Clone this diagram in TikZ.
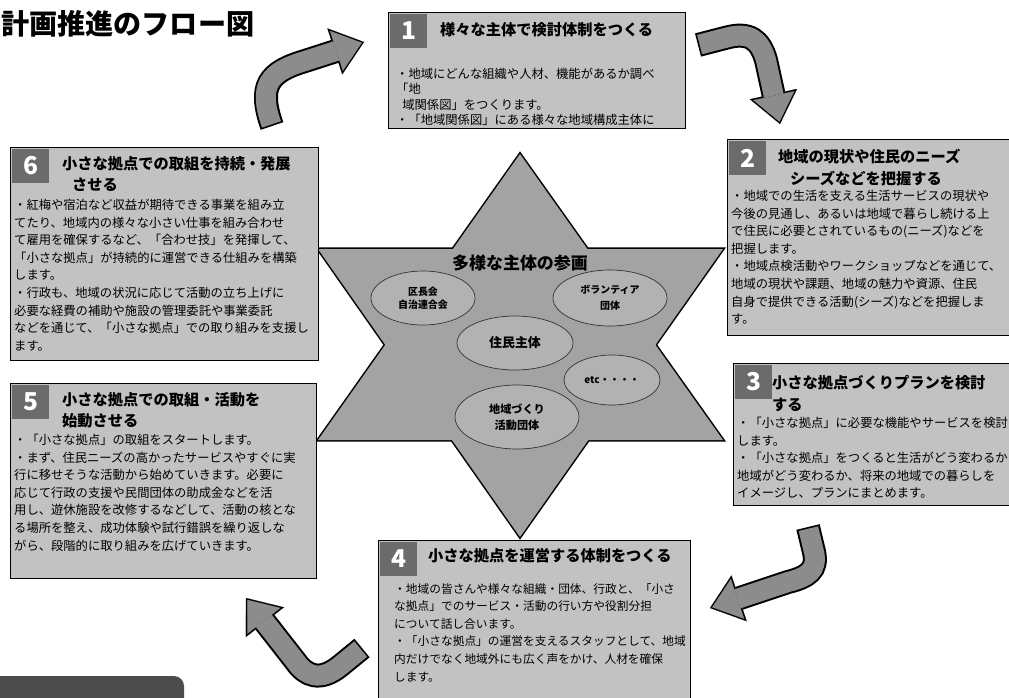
\documentclass[tikz,border=0pt]{standalone}
\usepackage{fontspec}
\setmainfont{Noto Sans CJK JP}
\usetikzlibrary{shapes.geometric,arrows.meta}

\begin{document}
\begin{tikzpicture}[x=0.03cm, y=-0.03cm,
  panel/.style={draw=black, line width=0.9pt, fill=black!24, anchor=north west, inner sep=0},
  numbox/.style={fill=black!58, anchor=north west, minimum width=1.1cm, minimum height=1cm,
    inner sep=0, text=white, font=\fontsize{21}{21}\selectfont\bfseries},
  head/.style={anchor=north west, align=left, inner sep=0, font=\fontsize{13}{18.5}\selectfont\bfseries},
  body/.style={anchor=north west, align=left, inner sep=0, font=\fontsize{10.5}{15}\selectfont},
  ellip/.style={ellipse, draw=black!80, line width=0.6pt, fill=black!30, inner sep=0, align=center},
  arrowrim/.style={line width=0.72cm, draw=black,
    -{Triangle[length=0.92cm, width=1.45cm, line width=0.1pt]}},
  arrowcore/.style={line width=0.6cm, draw=black!45, shorten >=0.07cm, shorten <=0.05cm,
    -{Triangle[length=0.8cm, width=1.26cm, line width=0.1pt]}}
]

\useasboundingbox (0,0) rectangle (1009,697);
\fill[white] (0,0) rectangle (1009,697);

\node[anchor=west, inner sep=0, font=\fontsize{24}{24}\selectfont\bfseries] (title) at (1,24) {計画推進のフロー図};

\fill[black!70] (-5,676) [rounded corners=0.3cm] -- (184,676) [sharp corners] -- (184,710) -- (-5,710) -- cycle;

\coordinate (sT)  at (520,154);
\coordinate (sBL) at (318,440);
\coordinate (sBR) at (723,440);
\coordinate (sB)  at (520,537);
\coordinate (sTL) at (318,249);
\coordinate (sTR) at (723,249);

\draw[line width=2.6pt] (sT) -- (sBL) -- (sBR) -- cycle;
\draw[line width=2.6pt] (sB) -- (sTL) -- (sTR) -- cycle;
\fill[black!36] (sT) -- (sBL) -- (sBR) -- cycle;
\fill[black!36] (sB) -- (sTL) -- (sTR) -- cycle;

\node[font=\fontsize{14.5}{15}\selectfont\bfseries] (sankaku) at (520,263) {多様な主体の参画};

\node[ellip, minimum width=3.12cm, minimum height=1.62cm, font=\fontsize{8.5}{11}\selectfont\bfseries] (kucho) at (423,298) {区長会\\自治連合会};
\node[ellip, minimum width=3.42cm, minimum height=1.68cm, font=\fontsize{8.5}{14}\selectfont\bfseries] (volunteer) at (610,298) {ボランティア\\団体};
\node[ellip, minimum width=3.48cm, minimum height=1.62cm, font=\fontsize{11}{12}\selectfont\bfseries] (jumin) at (515,343) {住民主体};
\node[ellip, minimum width=2.88cm, minimum height=1.5cm, font=\fontsize{8.5}{10}\selectfont\bfseries] (etc) at (612,380) {etc・・・・};
\node[ellip, minimum width=3.72cm, minimum height=1.92cm, font=\fontsize{9.5}{14}\selectfont\bfseries] (chiiki) at (517,417) {地域づくり\\活動団体};

\node[panel, minimum width=8.91cm, minimum height=3.48cm] (p1) at (388,12) {};
\node[numbox] (n1) at (390,14) {1};
\node[head] (h1) at (440,22) {様々な主体で検討体制をつくる};
\node[body, font=\fontsize{10.5}{13}\selectfont] (t1) at (396,68) {・地域にどんな組織や人材、機能があるか調べ\\「地\\\hspace*{0.5em}域関係図」をつくります。\\・「地域関係図」にある様々な地域構成主体に};

\node[panel, minimum width=8.55cm, minimum height=5.88cm] (p2) at (727,139) {};
\node[numbox] (n2) at (729,141) {2};
\node[head] (h2) at (778,149) {地域の現状や住民のニーズ\\\hspace*{0.36cm}シーズなどを把握する};
\node[body] (t2) at (731,190) {・地域での生活を支える生活サービスの現状や\\今後の見通し、あるいは地域で暮らし続ける上\\で住民に必要とされているもの(ニーズ)などを\\把握します。\\・地域点検活動やワークショップなどを通じて、\\地域の現状や課題、地域の魅力や資源、住民\\自身で提供できる活動(シーズ)などを把握しま\\す。};

\node[panel, minimum width=8.37cm, minimum height=4.26cm] (p3) at (733,363) {};
\node[numbox] (n3) at (735,365) {3};
\node[head] (h3) at (772,375) {小さな拠点づくりプランを検討\\する};
\node[body] (t3) at (737,417) {・「小さな拠点」に必要な機能やサービスを検討\\します。\\・「小さな拠点」をつくると生活がどう変わるか\\地域がどう変わるか、将来の地域での暮らしを\\イメージし、プランにまとめます。};

\node[panel, minimum width=9.36cm, minimum height=4.8cm] (p4) at (378,540) {};
\node[numbox] (n4) at (380,542) {4};
\node[head] (h4) at (428,548) {小さな拠点を運営する体制をつくる};
\node[body, font=\fontsize{10}{15}\selectfont] (t4) at (394,583) {・地域の皆さんや様々な組織・団体、行政と、「小さ\\な拠点」でのサービス・活動の行い方や役割分担\\について話し合います。\\・「小さな拠点」の運営を支えるスタッフとして、地域\\内だけでなく地域外にも広く声をかけ、人材を確保\\します。};

\node[panel, minimum width=9.18cm, minimum height=5.85cm] (p5) at (10,383) {};
\node[numbox] (n5) at (12,385) {5};
\node[head] (h5) at (62,392) {小さな拠点での取組・活動を\\始動させる};
\node[body] (t5) at (14,434) {・「小さな拠点」の取組をスタートします。\\・まず、住民ニーズの高かったサービスやすぐに実\\行に移せそうな活動から始めていきます。必要に\\応じて行政の支援や民間団体の助成金などを活\\用し、遊休施設を改修するなどして、活動の核とな\\る場所を整え、成功体験や試行錯誤を繰り返しな\\がら、段階的に取り組みを広げていきます。};

\node[panel, minimum width=9.24cm, minimum height=6.39cm] (p6) at (10,147) {};
\node[numbox] (n6) at (12,149) {6};
\node[head] (h6) at (62,156) {小さな拠点での取組を持続・発展\\\hspace*{0.3cm}させる};
\node[body] (t6) at (14,199) {・紅梅や宿泊など収益が期待できる事業を組み立\\てたり、地域内の様々な小さい仕事を組み合わせ\\て雇用を確保するなど、「合わせ技」を発揮して、\\「小さな拠点」が持続的に運営できる仕組みを構築\\します。\\・行政も、地域の状況に応じて活動の立ち上げに\\必要な経費の補助や施設の管理委託や事業委託\\などを通じて、「小さな拠点」での取り組みを支援し\\ます。};

\coordinate (a1s) at (272,126);
\coordinate (a1e) at (364,42);
\coordinate (a2s) at (698,45);
\coordinate (a2e) at (780,124);
\coordinate (a3s) at (808,527);
\coordinate (a3e) at (710,608);
\coordinate (a4s) at (362,648);
\coordinate (a4e) at (246,598);

\draw[arrowrim] (a1s) .. controls (258,86) and (268,72) .. (305,61) -- (a1e);
\draw[arrowcore] (a1s) .. controls (258,86) and (268,72) .. (305,61) -- (a1e);

\draw[arrowrim] (a2s) -- (725,38) .. controls (750,31) and (760,40) .. (766,60) -- (a2e);
\draw[arrowcore] (a2s) -- (725,38) .. controls (750,31) and (760,40) .. (766,60) -- (a2e);

\draw[arrowrim] (a3s) -- (814,552) .. controls (818,570) and (808,577) .. (788,582) -- (a3e);
\draw[arrowcore] (a3s) -- (814,552) .. controls (818,570) and (808,577) .. (788,582) -- (a3e);

\draw[arrowrim] (a4s) -- (340,666) .. controls (320,682) and (306,676) .. (296,662) -- (a4e);
\draw[arrowcore] (a4s) -- (340,666) .. controls (320,682) and (306,676) .. (296,662) -- (a4e);

\end{tikzpicture}
\end{document}
